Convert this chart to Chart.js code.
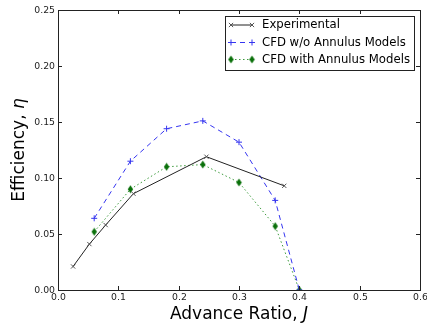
<!DOCTYPE html>
<html>
<head>
<meta charset="utf-8">
<script src="https://cdn.jsdelivr.net/npm/chart.js@4/dist/chart.umd.min.js"></script>
<style>
  html, body { margin: 0; padding: 0; background: #fff; }
  #mycanvas { display: block; }
</style>
</head>
<body>
<canvas id="mycanvas" width="427" height="331"></canvas>
<script>
// advance ratio J and efficiency values per series
var expJ = [0.025, 0.052, 0.079, 0.125, 0.246, 0.375];
var expEta = [0.021, 0.041, 0.058, 0.086, 0.119, 0.093];
var cfdJ = [0.06, 0.12, 0.18, 0.24, 0.30, 0.36, 0.40];
var noAnnulusEta = [0.064, 0.115, 0.144, 0.151, 0.132, 0.080, 0.0];
var withAnnulusEta = [0.052, 0.090, 0.110, 0.112, 0.096, 0.057, 0.0];

var xTicks = [0.0, 0.1, 0.2, 0.3, 0.4, 0.5, 0.6];
var xTickLabels = ["0.0", "0.1", "0.2", "0.3", "0.4", "0.5", "0.6"];
var yTicks = [0.0, 0.05, 0.10, 0.15, 0.20, 0.25];
var yTickLabels = ["0.00", "0.05", "0.10", "0.15", "0.20", "0.25"];

var seriesNames = ["Experimental", "CFD w/o Annulus Models", "CFD with Annulus Models"];

function pairs(xs, ys) {
  var out = [];
  for (var i in xs) out.push({x: xs[i], y: ys[i]});
  return out;
}

// thin diamond marker
function thinDiamond(color) {
  var c = document.createElement("canvas");
  c.width = 7; c.height = 9;
  var g = c.getContext("2d");
  g.fillStyle = color;
  g.beginPath();
  g.moveTo(3.5, 0.5);
  g.lineTo(6.2, 4.5);
  g.lineTo(3.5, 8.5);
  g.lineTo(0.8, 4.5);
  g.closePath();
  g.fill();
  return c;
}
var diamond = thinDiamond("#0a700a");

var FONT = "'DejaVu Sans', sans-serif";

// draws the box, inward ticks, tick labels, axis titles and legend
var axesDecor = {
  id: "axesDecor",
  afterDraw: function(chart) {
    var ctx = chart.ctx;
    var a = chart.chartArea;
    var xs = chart.scales.x, ys = chart.scales.y;
    ctx.save();
    ctx.strokeStyle = "#222";
    ctx.lineWidth = 1;
    ctx.strokeRect(Math.round(a.left) + 0.5, Math.round(a.top) + 0.5,
                   Math.round(a.right - a.left), Math.round(a.bottom - a.top));

    ctx.fillStyle = "#222";
    ctx.font = "9.3px " + FONT;
    // x ticks
    ctx.textAlign = "center";
    ctx.textBaseline = "top";
    for (var i in xTicks) {
      var px = Math.round(xs.getPixelForValue(xTicks[i])) + 0.5;
      ctx.beginPath();
      ctx.moveTo(px, a.bottom); ctx.lineTo(px, a.bottom - 4);
      ctx.moveTo(px, a.top); ctx.lineTo(px, a.top + 4);
      ctx.stroke();
      ctx.fillText(xTickLabels[i], px, a.bottom + 3);
    }
    // y ticks
    ctx.textAlign = "right";
    ctx.textBaseline = "middle";
    for (var j in yTicks) {
      var py = Math.round(ys.getPixelForValue(yTicks[j])) + 0.5;
      ctx.beginPath();
      ctx.moveTo(a.left, py); ctx.lineTo(a.left + 4, py);
      ctx.moveTo(a.right, py); ctx.lineTo(a.right - 4, py);
      ctx.stroke();
      ctx.fillText(yTickLabels[j], a.left - 3, py);
    }

    // axis titles with italic symbols
    ctx.fillStyle = "#000";
    function mixed(parts, cx, cy) {
      var w = 0;
      parts.forEach(function(p) { ctx.font = p[1] + " 17px " + FONT; w += ctx.measureText(p[0]).width; });
      var x0 = cx - w / 2;
      ctx.textAlign = "left";
      ctx.textBaseline = "middle";
      parts.forEach(function(p) {
        ctx.font = p[1] + " 17px " + FONT;
        ctx.fillText(p[0], x0, cy);
        x0 += ctx.measureText(p[0]).width;
      });
    }
    mixed([["Advance Ratio, ", "normal"], ["J", "italic"]], (a.left + a.right) / 2, 315);
    ctx.save();
    ctx.translate(20, (a.top + a.bottom) / 2);
    ctx.rotate(-Math.PI / 2);
    mixed([["Efficiency, ", "normal"], ["\u03b7", "italic"]], 0, 0);
    ctx.restore();

    // legend
    var lx = 225.5, ly = 16.5, lw = 189, lh = 54;
    ctx.fillStyle = "#fff";
    ctx.fillRect(lx, ly, lw, lh);
    ctx.strokeStyle = "#222";
    ctx.strokeRect(lx, ly, lw, lh);
    var rows = [25, 42.5, 59.5];
    ctx.font = "11.7px " + FONT;
    ctx.textAlign = "left";
    ctx.textBaseline = "middle";
    chart.data.datasets.forEach(function(ds, k) {
      var y = rows[k];
      ctx.strokeStyle = ds.borderColor;
      ctx.lineWidth = 1;
      ctx.setLineDash(ds.borderDash || []);
      ctx.beginPath();
      ctx.moveTo(231, y); ctx.lineTo(252, y);
      ctx.stroke();
      ctx.setLineDash([]);
      ctx.strokeStyle = ds.pointBorderColor;
      [231, 252].forEach(function(mx) {
        Chart.helpers.drawPoint(ctx, {
          pointStyle: ds.pointStyle, radius: ds.pointRadius, borderWidth: 1, rotation: 0
        }, mx, y);
      });
      ctx.fillStyle = "#000";
      ctx.fillText(ds.label, 262, y);
    });
    ctx.restore();
  }
};

var chartdata = {
  datasets: [
    {
      label: seriesNames[0],
      data: pairs(expJ, expEta),
      showLine: true,
      clip: 0,
      borderColor: "#222",
      backgroundColor: "#222",
      pointBorderColor: "#555",
      borderWidth: 1,
      pointStyle: "crossRot",
      pointRadius: 3,
      pointBorderWidth: 1
    },
    {
      label: seriesNames[1],
      data: pairs(cfdJ, noAnnulusEta),
      showLine: true,
      clip: 0,
      borderColor: "#3535f0",
      backgroundColor: "#3535f0",
      pointBorderColor: "#3535f0",
      borderWidth: 1,
      borderDash: [5, 4],
      pointStyle: "cross",
      pointRadius: 3,
      pointBorderWidth: 1
    },
    {
      label: seriesNames[2],
      data: pairs(cfdJ, withAnnulusEta),
      showLine: true,
      clip: 0,
      borderColor: "#3c9a3c",
      backgroundColor: "#0a700a",
      pointBorderColor: "#0a700a",
      borderWidth: 1,
      borderDash: [1.5, 2.5],
      pointStyle: diamond,
      pointRadius: 4
    }
  ]
};

var ctx = document.getElementById("mycanvas");
var graph = new Chart(ctx, {
  type: "scatter",
  data: chartdata,
  plugins: [axesDecor],
  options: {
    responsive: false,
    animation: false,
    layout: { padding: { left: 58, right: 7, top: 10, bottom: 41 } },
    plugins: { legend: { display: false }, tooltip: { enabled: false } },
    scales: {
      x: { type: "linear", min: 0, max: 0.6, display: false },
      y: { type: "linear", min: 0, max: 0.25, display: false }
    }
  }
});
</script>
</body>
</html>
